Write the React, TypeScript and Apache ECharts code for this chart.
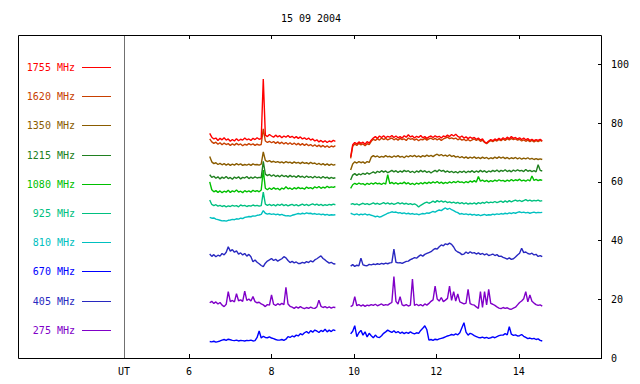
import React, { useEffect, useRef } from "react";
import * as echarts from "echarts";

const title = "15 09 2004";
const channelNames = ["1755 MHz", "1620 MHz", "1350 MHz", "1215 MHz", "1080 MHz", "925 MHz", "810 MHz", "670 MHz", "405 MHz", "275 MHz"];
const channelColors = ["#ff0000", "#c84000", "#8a5c00", "#208020", "#00c000", "#00c080", "#00c0c0", "#0000ff", "#2828c0", "#8000c8"];
const xTicks = [6, 8, 10, 12, 14];
const yTicks = [0, 20, 40, 60, 80, 100];
const seg1Start = 6.5;
const seg2Start = 9.92;
const stepHours = 0.05;

// 1755 MHz
const red1 = [76.5,75.2,74.6,74.9,74.1,74.8,74.3,75.0,74.2,74.6, 73.8,74.4,73.9,74.7,74.0,74.5,74.2,74.9,74.3,74.6, 74.1,74.8,74.4,75.0,74.5,74.7,95.0,75.9,75.4,76.1, 75.6,75.2,75.9,75.3,75.7,75.0,75.6,75.2,75.8,75.1, 75.5,74.9,75.4,74.8,75.3,74.6,75.0,74.4,74.9,74.2, 74.6,73.9,74.3,73.6,74.1,73.5,74.0,73.4,73.9,73.6, 74.1,73.8];
const red2 = [68.5,72.6,73.4,72.9,73.6,73.1,73.5,72.8,73.7,73.2, 74.2,74.9,75.4,74.8,75.6,75.1,75.7,75.0,75.5,75.2, 75.8,75.1,75.6,75.0,75.4,74.9,75.7,75.2,76.0,75.3, 75.6,74.9,75.5,75.1,75.8,75.0,75.4,74.8,75.3,75.6, 75.1,75.7,75.2,75.5,74.9,75.6,75.3,75.9,75.4,76.1, 75.6,76.2,75.5,75.1,75.6,74.9,75.3,74.7,75.2,74.8, 75.1,74.5,74.9,74.2,74.6,73.6,73.2,73.9,74.4,74.0, 74.6,74.2,74.8,74.3,75.0,74.5,75.2,74.7,75.4,74.8, 75.1,74.6,75.0,74.4,74.9,74.3,74.7,74.1,74.5,74.0, 74.4,74.1,74.5,74.0];
// 1620 MHz
const org1 = [74.6,73.6,73.1,73.5,72.8,73.3,72.6,73.2,72.7,73.0, 72.4,72.9,72.5,73.1,72.6,72.9,72.3,72.8,72.5,73.0, 72.6,72.9,72.4,72.8,72.5,72.7,78.0,73.9,73.4,73.8, 73.3,73.7,73.1,73.6,73.0,73.5,72.9,73.4,72.8,73.3, 72.7,73.2,72.6,73.1,72.5,73.0,72.4,72.9,72.3,72.7, 72.1,72.6,72.0,72.5,71.9,72.4,71.8,72.3,71.7,72.2, 71.9,72.3];
const org2 = [68.0,72.1,72.9,72.4,73.1,72.6,72.9,72.3,73.0,72.7, 73.8,74.5,74.1,74.7,74.2,74.9,74.4,74.8,74.3,74.6, 74.9,74.3,74.7,74.2,74.8,74.4,74.6,74.1,74.9,74.5, 74.7,74.2,74.6,74.0,74.5,74.3,74.8,74.2,74.6,74.9, 74.4,74.8,74.3,74.7,74.1,74.6,74.9,75.2,74.7,75.0, 74.6,74.9,74.3,74.7,74.2,74.5,74.0,74.4,73.9,74.3, 74.6,74.1,74.5,73.8,74.2,73.4,73.0,73.6,74.0,73.7, 74.2,73.9,74.4,74.0,74.6,74.1,74.7,74.3,74.8,74.4, 74.6,74.2,74.5,73.9,74.3,73.8,74.2,73.7,74.1,73.6, 74.0,73.7,74.1,73.8];
// 1350 MHz
const brn1 = [68.6,66.8,66.2,66.5,65.9,66.3,65.8,66.2,65.7,66.1, 65.6,66.0,65.7,66.2,65.8,66.1,65.6,65.9,65.7,66.0, 65.6,66.1,65.8,65.9,65.7,66.0,70.2,67.3,66.9,67.2, 66.7,67.0,66.6,66.9,66.5,66.8,66.4,66.9,66.5,66.7, 66.3,66.8,66.4,66.6,66.2,66.7,66.3,66.5,66.1,66.6, 66.2,66.4,65.9,66.3,65.8,66.2,65.7,66.1,65.6,66.0, 65.7,65.9];
const brn2 = [64.0,66.1,66.8,66.4,66.9,66.5,66.8,66.3,66.9,66.6, 68.4,68.9,68.5,68.8,68.3,68.7,68.4,68.9,68.5,68.7, 68.3,68.8,68.5,68.9,68.4,68.7,68.2,68.8,68.5,68.9, 68.6,69.0,68.5,68.8,68.4,68.9,68.6,69.1,68.7,69.0, 68.6,69.1,69.4,68.9,69.3,68.8,69.1,68.7,69.2,68.6, 68.9,68.4,68.7,68.2,68.6,68.1,68.5,68.0,68.4,68.1, 68.5,68.0,68.3,67.9,68.4,68.0,68.3,67.8,68.2,67.9, 68.4,68.0,68.5,68.1,68.4,67.9,68.3,67.8,68.2,67.9, 68.3,67.8,68.2,67.7,68.1,67.8,68.2,67.7,68.0,67.6, 67.9,67.6,67.8,67.6];
// 1215 MHz
const dgr1 = [62.4,61.5,61.9,61.2,61.7,61.0,61.6,61.2,61.8,61.1, 61.5,60.9,61.6,61.2,61.7,61.0,61.5,61.3,61.8,61.1, 61.6,61.2,61.7,61.3,61.5,61.4,67.0,62.6,62.1,62.5, 61.9,62.4,61.8,62.2,61.7,62.3,61.8,62.1,61.6,62.2, 61.7,62.0,61.5,62.1,61.6,61.9,61.4,62.0,61.5,61.8, 61.3,61.9,61.4,61.7,61.2,61.8,61.3,61.6,61.1,61.5, 61.2,61.4];
const dgr2 = [60.6,62.3,62.8,62.2,62.7,62.4,62.9,62.5,63.1,62.6, 63.0,63.4,62.9,63.6,63.2,63.8,63.3,63.7,63.1,63.5, 63.9,63.4,63.8,63.2,63.7,63.3,63.9,63.5,63.8,63.2, 63.6,63.1,63.7,63.3,63.9,63.4,63.8,63.2,63.6,63.0, 63.5,63.9,63.4,64.1,63.6,63.9,63.3,63.7,63.2,63.6, 63.1,63.5,63.0,63.6,63.2,63.7,63.1,63.6,63.3,63.8, 63.2,63.7,63.3,63.9,63.4,63.8,63.2,63.7,63.4,63.9, 63.5,64.0,63.4,63.9,63.6,64.1,63.5,63.9,63.4,64.0, 63.6,64.1,63.7,63.9,63.5,64.2,63.6,63.9,63.5,63.8, 63.4,65.8,63.9,63.7];
// 1080 MHz
const grn1 = [60.0,57.3,56.6,57.0,56.4,56.9,56.3,56.8,56.5,57.1, 56.4,56.9,56.6,57.2,56.5,56.8,56.3,57.0,56.6,56.9, 56.5,57.1,56.7,57.0,56.6,57.2,64.0,57.8,57.3,57.9, 57.4,58.0,57.5,57.8,57.2,57.9,57.5,58.3,57.6,57.9, 57.4,58.0,57.6,58.1,57.7,57.9,57.5,58.2,57.8,58.0, 57.6,58.3,57.9,58.4,57.8,58.2,57.9,58.5,58.0,58.3, 58.1,58.4];
const grn2 = [57.8,59.0,59.5,59.1,59.6,59.2,59.4,58.9,59.5,59.1, 59.6,59.2,59.7,59.3,59.5,59.1,59.6,59.2,62.4,59.4, 59.8,59.3,59.7,59.2,59.6,59.4,59.9,59.3,59.7,59.1, 59.5,59.0,59.6,59.2,59.7,59.3,59.8,59.4,59.9,59.5, 60.0,59.6,60.1,59.5,59.9,59.4,59.8,59.5,60.0,59.6, 60.1,59.7,60.2,59.8,60.0,59.6,60.1,59.7,60.3,59.9, 60.4,59.9,61.8,60.2,60.6,60.1,60.5,60.0,60.4,60.1, 60.6,60.2,60.7,60.3,60.5,60.1,60.6,60.2,60.8,60.3, 60.7,60.4,60.9,60.3,60.6,60.2,60.7,60.3,62.0,60.5, 60.8,60.4,60.7,60.5];
// 925 MHz
const tel1 = [53.8,52.3,51.9,52.2,51.7,52.0,51.6,51.9,51.5,51.8, 51.6,52.0,51.7,51.9,51.5,52.1,51.8,52.0,51.6,51.9, 51.7,52.1,51.8,52.0,51.7,51.9,56.5,52.4,52.0,52.3, 51.9,52.2,51.8,52.3,52.0,52.4,51.9,52.2,51.8,52.1, 52.3,51.9,52.2,51.8,52.1,52.4,52.0,52.3,51.9,52.2, 52.5,52.1,52.4,52.0,52.3,51.9,52.2,52.0,52.3,52.1, 52.4,52.2];
const tel2 = [52.3,52.6,52.2,52.5,52.1,52.4,52.7,52.3,52.6,52.2, 52.5,52.8,52.4,52.7,52.3,52.6,52.9,52.5,52.8,52.4, 52.7,52.3,52.6,52.9,52.5,52.8,52.4,52.7,52.3,52.6, 52.2,52.5,52.1,51.4,52.0,52.4,52.8,53.1,52.7,53.0, 53.4,53.0,53.6,53.2,53.5,53.1,53.4,52.9,53.2,52.8, 53.1,52.7,53.0,52.6,52.9,52.5,52.8,52.4,52.7,52.5, 52.8,52.4,52.9,52.6,53.0,52.7,53.2,52.8,53.1,52.9, 53.3,52.9,53.2,53.4,53.0,53.5,53.1,53.6,53.2,53.5, 53.8,53.4,53.7,53.3,53.6,53.9,53.5,53.8,53.4,53.7, 53.5,53.8,53.4,53.6];
// 810 MHz
const cyn1 = [47.9,47.6,47.7,47.3,47.1,46.9,46.7,46.8,46.6,46.9, 47.0,47.2,47.1,47.4,47.3,47.6,47.5,47.9,48.0,48.2, 48.1,48.4,48.3,48.6,48.7,48.9,50.2,49.3,49.0,49.2, 48.9,49.1,48.8,49.0,48.7,48.9,48.6,48.4,48.5,48.3, 48.6,48.8,49.0,49.2,49.0,49.3,49.1,49.4,49.2,49.3, 49.0,49.2,48.9,49.1,48.8,49.0,48.7,48.9,48.6,48.8, 48.7,48.8];
const cyn2 = [49.3,49.0,48.8,49.1,48.7,49.0,48.8,49.1,48.7,48.9, 48.6,48.4,48.1,48.3,48.0,48.2,48.6,48.9,49.3,49.5, 49.8,49.6,49.7,49.4,49.5,49.2,49.4,49.1,49.3,49.0, 49.2,48.9,49.1,48.8,49.0,49.2,49.1,49.4,49.3,49.6, 49.9,49.7,50.1,50.4,50.2,50.7,51.1,50.6,51.0,50.5, 50.2,49.8,49.5,49.0,49.2,48.9,49.1,48.8,49.0,48.7, 48.9,48.6,48.8,48.5,48.7,48.9,48.6,48.8,48.7,49.0, 48.8,49.1,48.9,49.2,49.0,49.3,49.1,49.4,49.2,49.5, 49.3,49.6,49.8,49.5,49.7,49.4,49.6,49.3,49.5,49.7, 49.4,49.6,49.5,49.6];
// 670 MHz
const blu1 = [5.6,5.5,5.7,5.4,5.6,5.8,6.1,6.3,6.0,6.4, 6.2,6.0,5.9,6.1,5.8,6.0,5.9,5.8,6.0,5.9, 6.1,5.8,5.9,7.0,9.2,6.8,7.4,7.0,6.9,7.2, 6.8,6.6,6.3,6.1,6.1,6.3,6.0,6.4,7.3,7.0, 7.5,7.2,7.8,7.5,8.3,7.9,8.6,9.0,8.4,9.3, 8.8,9.5,9.2,8.7,9.4,9.0,9.8,8.9,9.5,9.0, 9.6,9.3];
const blu2 = [8.2,9.1,11.0,7.3,8.6,9.4,7.8,8.9,7.2,8.4, 7.6,6.9,7.8,7.1,7.0,7.6,8.4,8.9,9.5,9.1, 8.7,9.3,8.6,9.0,8.4,8.8,8.3,8.7,8.4,8.9, 8.5,8.2,8.6,8.4,9.4,10.1,11.0,9.6,6.1,6.3, 6.0,6.4,6.2,6.5,6.7,6.9,7.2,7.5,7.7,8.0, 7.8,8.2,7.9,8.6,10.3,12.0,8.8,7.8,8.4,8.1, 7.6,7.3,7.0,6.9,7.1,6.8,7.0,6.7,6.9,7.2, 6.9,7.3,7.6,7.8,7.8,8.3,7.9,10.7,8.1,7.7, 7.9,7.5,7.6,8.0,7.4,7.0,6.6,6.8,6.5,6.7, 6.3,6.5,6.0,5.8];
// 405 MHz
const dbl1 = [35.4,34.6,35.2,34.5,35.0,34.7,35.6,35.1,36.0,37.9, 36.4,36.9,36.0,36.5,35.4,35.8,35.1,35.6,34.7,35.3, 34.5,32.8,33.4,32.6,32.1,31.5,31.1,32.3,33.0,33.4, 33.9,33.2,33.6,33.0,33.4,33.8,34.5,34.1,33.2,32.5, 32.9,32.4,32.7,32.2,32.2,32.6,32.3,32.8,32.5,33.1, 32.7,33.4,33.8,34.3,34.8,33.9,33.4,32.8,32.3,32.6, 32.1,32.0];
const dbl2 = [31.3,31.8,31.2,31.6,31.4,34.0,31.7,31.5,31.4,31.9, 31.7,32.0,31.8,32.1,31.9,32.2,32.0,32.3,32.1,32.4, 32.5,37.1,32.6,32.4,32.5,32.2,32.6,32.9,33.0,33.5, 33.8,34.2,34.0,34.6,35.1,34.7,35.3,35.6,35.9,36.2, 36.8,37.3,37.1,37.9,38.5,38.2,38.9,38.6,39.1,38.7, 37.8,36.6,36.1,35.8,35.2,35.4,36.1,35.6,36.2,35.7, 35.9,35.4,35.8,35.3,35.6,35.1,35.5,34.9,35.1,35.4, 34.9,35.2,34.6,34.7,34.3,34.0,33.7,34.1,33.6,33.8, 34.4,35.1,35.7,37.4,35.9,36.1,35.6,35.4,35.7,35.1, 35.3,34.6,34.9,34.5];
// 275 MHz
const pur1 = [18.8,19.3,18.6,19.1,18.4,18.9,18.0,17.5,18.3,22.6, 19.2,19.6,19.1,21.9,19.5,19.8,19.3,22.8,19.6,20.1, 19.4,20.9,19.2,18.8,19.0,18.4,18.1,17.5,18.2,18.0, 21.5,18.3,17.9,18.5,18.1,18.6,18.2,24.1,18.4,17.6, 17.3,16.9,17.4,17.0,17.5,17.1,16.8,17.2,16.9,17.3, 17.0,16.9,17.4,19.7,17.6,17.2,17.5,17.1,17.4,17.0, 17.3,17.2];
const pur2 = [17.5,17.9,20.9,17.8,18.2,17.7,18.1,17.6,18.0,17.8, 18.2,17.9,18.3,17.8,18.1,18.4,17.9,18.2,18.0,18.5, 18.9,27.7,19.3,18.4,20.9,18.1,17.8,18.2,17.7,18.0, 26.9,17.9,18.3,17.8,18.2,17.7,18.4,18.0,18.6,19.3, 19.8,24.5,20.1,19.4,20.6,19.2,19.7,20.3,24.5,19.6, 22.6,19.4,21.8,19.1,18.8,18.4,18.7,23.4,18.5,18.2, 18.0,17.4,16.9,22.6,17.2,22.6,18.1,23.4,18.6,18.3, 17.9,17.4,17.0,16.8,17.2,16.9,17.1,16.7,16.6,17.0, 17.3,18.1,18.9,19.4,20.2,22.6,19.1,21.5,19.3,18.7, 18.2,17.9,18.1,17.7];

const seg1Values = [red1, org1, brn1, dgr1, grn1, tel1, cyn1, blu1, dbl1, pur1];
const seg2Values = [red2, org2, brn2, dgr2, grn2, tel2, cyn2, blu2, dbl2, pur2];

const FONT = "DejaVu Sans Mono";

function buildData(a: number[], b: number[]) {
  const out: any[] = [];
  a.forEach((v, i) => out.push([seg1Start + i * stepHours, v]));
  out.push([(seg1Start + a.length * stepHours + seg2Start) / 2, "-"]);
  b.forEach((v, i) => out.push([seg2Start + i * stepHours, v]));
  return out;
}

export default function App() {
  const ref = useRef<HTMLDivElement>(null);
  useEffect(() => {
    if (!ref.current) return;
    const chart = echarts.init(ref.current, undefined, { renderer: "svg" });
    const gridLeft = 124, gridTop = 35, gridRight = 602, gridBottom = 358;
    const graphic: any[] = [
      { type: "rect", shape: { x: 18.5, y: 35.5, width: 583, height: 323 }, style: { fill: "none", stroke: "#000", lineWidth: 1 }, z: 100 },
      { type: "line", shape: { x1: 124.5, y1: 36, x2: 124.5, y2: 358 }, style: { stroke: "#707070", lineWidth: 1 }, z: 100 },
      { type: "text", x: 124, y: 371, style: { text: "UT", fontFamily: FONT, fontSize: 10, fill: "#000", align: "center", verticalAlign: "middle" } },
      { type: "text", x: 311, y: 18, style: { text: title, fontFamily: FONT, fontSize: 10, fill: "#000", align: "center", verticalAlign: "middle" } },
    ];
    channelNames.forEach((name, k) => {
      const y = Math.round(67 + k * 29.2);
      graphic.push({ type: "text", x: 75, y, style: { text: name, fontFamily: FONT, fontSize: 10, fill: channelColors[k], align: "right", verticalAlign: "middle" } });
      graphic.push({ type: "rect", shape: { x: 82, y: y, width: 29, height: 1 }, style: { fill: channelColors[k], lineWidth: 0 } });
    });
    const axisCommon = {
      type: "value" as const,
      min: 4.42,
      max: 16.02,
      axisLine: { show: false },
      splitLine: { show: false },
      axisTick: { show: true, inside: true, length: 4, lineStyle: { color: "#000" }, customValues: xTicks },
    };
    chart.setOption({
      animation: false,
      backgroundColor: "#fff",
      grid: { left: gridLeft, top: gridTop, width: gridRight - gridLeft, height: gridBottom - gridTop, containLabel: false },
      xAxis: [
        { ...axisCommon, position: "bottom", axisLabel: { show: true, customValues: xTicks, margin: 8, fontFamily: FONT, fontSize: 10, color: "#000" } },
        { ...axisCommon, position: "top", axisLabel: { show: false } },
      ],
      yAxis: {
        type: "value",
        position: "right",
        min: 0,
        max: 110,
        axisLine: { show: false },
        splitLine: { show: false },
        axisTick: { show: true, inside: true, length: 4, lineStyle: { color: "#000" }, customValues: yTicks },
        axisLabel: { show: true, customValues: yTicks, margin: 9, fontFamily: FONT, fontSize: 10, color: "#000" },
      },
      graphic,
      series: channelNames.map((name, k) => ({
        name,
        type: "line",
        xAxisIndex: 0,
        data: buildData(seg1Values[k], seg2Values[k]),
        showSymbol: false,
        symbol: "none",
        silent: true,
        connectNulls: false,
        lineStyle: { color: channelColors[k], width: 1.4 },
        itemStyle: { color: channelColors[k] },
        z: 10 - k,
      })),
    });
    return () => chart.dispose();
  }, []);
  return <div ref={ref} style={{ width: 640, height: 384, position: "absolute", left: 0, top: 0 }} />;
}
